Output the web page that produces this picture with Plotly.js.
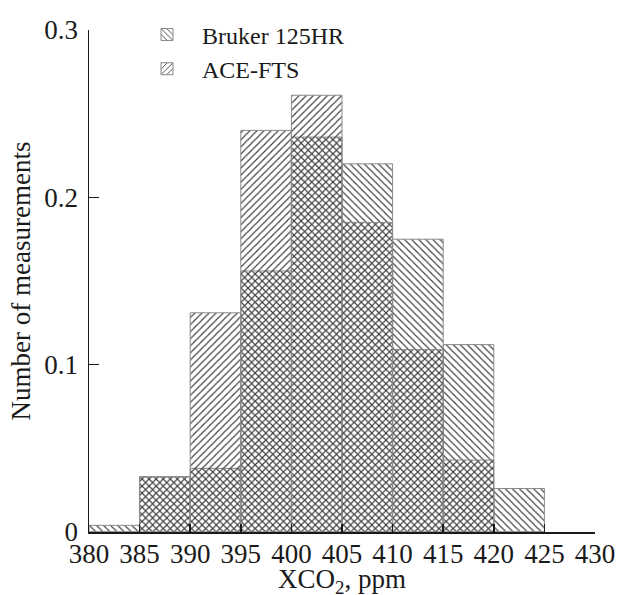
<!DOCTYPE html>
<html>
<head>
<meta charset="utf-8">
<script src="https://cdn.plot.ly/plotly-3.0.1.min.js"></script>
<style>html,body{margin:0;padding:0;background:#fff}#chart{width:617px;height:595px}</style>
</head>
<body>
<div id="chart"></div>
<script>
// bin centers (XCO2, ppm), bin width 5 ppm
const binCenters = [382.5, 387.5, 392.5, 397.5, 402.5, 407.5, 412.5, 417.5, 422.5];
const brukerValues = [0.004, 0.033, 0.038, 0.156, 0.236, 0.220, 0.175, 0.112, 0.026];
const aceValues = [0, 0.033, 0.131, 0.240, 0.261, 0.185, 0.109, 0.043, 0];
const xTicks = [380, 385, 390, 395, 400, 405, 410, 415, 420, 425, 430];
const yTicks = [0, 0.1, 0.2, 0.3];
const yTickLabels = ['0', '0.1', '0.2', '0.3'];
const xTitle = 'XCO<sub>2</sub>, ppm';
const yTitle = 'Number of measurements';

const FONT = 'Liberation Serif, Times New Roman, serif';
const FS = 27;

function hatchTrace(name, values, shape) {
  return {
    type: 'bar',
    name: name,
    x: binCenters,
    y: values,
    width: 5,
    marker: {
      color: 'rgba(0,0,0,0)',
      line: {color: '#8a8a8a', width: 1},
      pattern: {shape: shape, fgcolor: '#3a3a3a', bgcolor: 'rgba(0,0,0,0)', size: 5, solidity: 0.22, fillmode: 'replace'}
    },
    hoverinfo: 'x+y'
  };
}

const data = [
  hatchTrace('Bruker 125HR', brukerValues, '\\'),
  hatchTrace('ACE-FTS', aceValues, '/')
];

const layout = {
  width: 617,
  height: 595,
  margin: {l: 89, r: 22, t: 25, b: 63},
  paper_bgcolor: '#fff',
  plot_bgcolor: '#fff',
  barmode: 'overlay',
  bargap: 0,
  font: {family: FONT, size: FS, color: '#1a1a1a'},
  showlegend: true,
  legend: {
    x: 0.085, y: 1.035, xanchor: 'left', yanchor: 'top',
    bgcolor: 'rgba(0,0,0,0)',
    font: {family: FONT, size: 24, color: '#1a1a1a'},
    itemwidth: 60,
    tracegroupgap: 0
  },
  annotations: [{
    text: xTitle, xref: 'paper', yref: 'paper', x: 0.5, y: 0,
    xanchor: 'center', yanchor: 'middle', yshift: -49, showarrow: false,
    font: {family: FONT, size: FS, color: '#1a1a1a'}
  }],
  xaxis: {
    range: [380, 430],
    tickvals: xTicks,
    ticktext: xTicks.map(String),
    ticks: 'inside',
    ticklen: 8,
    tickwidth: 1.5,
    tickcolor: '#1a1a1a',
    showline: true,
    linecolor: '#1a1a1a',
    linewidth: 1.5,
    showgrid: false,
    zeroline: false,
    ticklabelstandoff: -3
  },
  yaxis: {
    range: [0, 0.3],
    tickvals: yTicks,
    ticktext: yTickLabels,
    ticks: 'inside',
    ticklen: 10,
    tickwidth: 1.5,
    tickcolor: '#1a1a1a',
    showline: true,
    linecolor: '#1a1a1a',
    linewidth: 1.5,
    showgrid: false,
    zeroline: false,
    ticklabelstandoff: 4,
    title: {text: yTitle, font: {family: FONT, size: FS, color: '#1a1a1a'}, standoff: 6}
  }
};

Plotly.newPlot('chart', data, layout, {displayModeBar: false, staticPlot: true});
</script>
</body>
</html>
